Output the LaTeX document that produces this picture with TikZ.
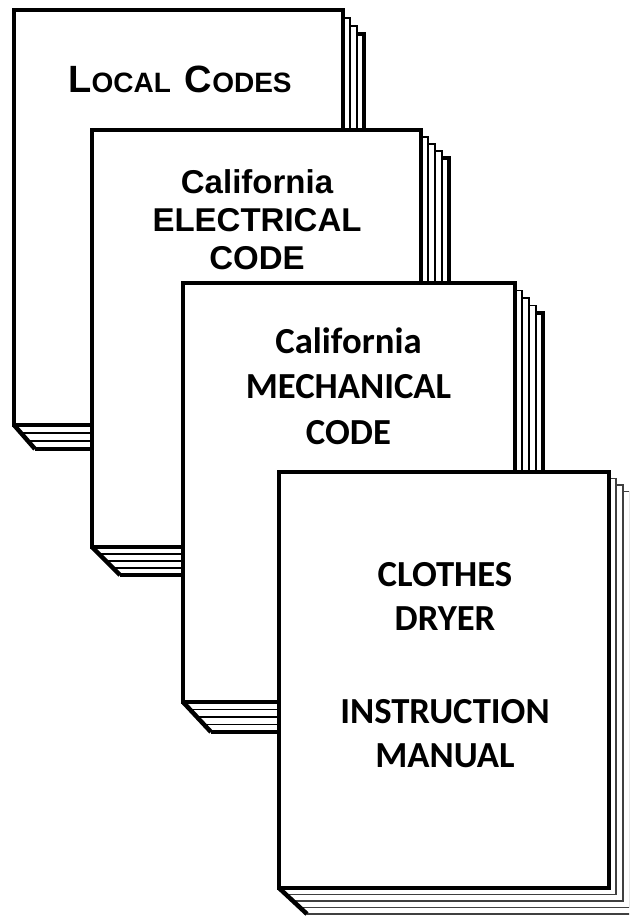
\documentclass[tikz,border=0pt]{standalone}
\usepackage{fontspec}
\newfontfamily\helvb{Liberation Sans}
\newfontfamily\calib{Carlito}
\tikzset{
  frontpage/.style={draw=black,line width=4.5pt,fill=white},
  thinpage/.style={draw=black,line width=1.6pt},
  lastpage/.style={draw=black,line width=4pt},
  greypage/.style={draw=black!75,line width=1.8pt},
  helvtext/.style={anchor=base,inner sep=0pt,font=\helvb\bfseries\fontsize{33}{33}\selectfont},
  calitext/.style={anchor=base,inner sep=0pt,font=\calib\bfseries\fontsize{36.7}{36.7}\selectfont}
}
% #1 x1, #2 y1, #3 x2, #4 y2, #5 dx, #6 dy, #7 number of back pages, #8 thin style, #9 last style
\newcommand{\bookstack}[9]{%
  \fill[white] (#1,#2) -- (#3,#2) -- ({#3+#7*#5},{#2+#7*#6}) -- ({#3+#7*#5},{#4+#7*#6})
     -- ({#1+#7*#5},{#4+#7*#6}) -- (#1,#4) -- cycle;
  \foreach \k in {#7,...,1} {
    \ifnum\k=#7\relax\def\pgst{#9}\else\def\pgst{#8}\fi
    \fill[white] ({#1+\k*#5},{#2+\k*#6}) rectangle ({#3+\k*#5},{#4+\k*#6});
    \draw[\pgst] ({#3+(\k-1)*#5},{#2+\k*#6}) -- ({#3+\k*#5},{#2+\k*#6})
       -- ({#3+\k*#5},{#4+\k*#6}) -- ({#1+\k*#5},{#4+\k*#6});
  }
  \draw[frontpage] (#1,#2) rectangle (#3,#4);
  \draw[frontpage] (#1,#4) -- ({#1+#7*#5},{#4+#7*#6});
}
\begin{document}
\begin{tikzpicture}[x=1pt,y=-1pt]
\useasboundingbox (0,0) rectangle (629,918);
\fill[white] (0,0) rectangle (629,918);
\clip (0,0) rectangle (629,918);

% Book 1: Local Codes
\bookstack{14}{10}{343}{425}{7}{8}{3}{thinpage}{lastpage}
\node[anchor=base,inner sep=0pt,font=\helvb\bfseries] (local) at (180,92)
  {\fontsize{38}{38}\selectfont L\fontsize{28}{28}\selectfont OCAL\hspace{14pt}\fontsize{38}{38}\selectfont C\fontsize{28}{28}\selectfont ODES};

% Book 2: California Electrical Code
\bookstack{92}{130}{421}{547}{7}{7}{4}{thinpage}{lastpage}
\node[helvtext] (ec1) at (257,193) {California};
\node[helvtext] (ec2) at (257,231) {ELECTRICAL};
\node[helvtext] (ec3) at (257,269) {CODE};

% Book 3: California Mechanical Code
\bookstack{183}{283}{515}{702}{7}{7.5}{4}{thinpage}{lastpage}
\node[calitext] (mc1) at (348.5,353) {California};
\node[calitext] (mc2) at (348.5,398.5) {MECHANICAL};
\node[calitext] (mc3) at (348.5,444) {CODE};

% Book 4: Clothes Dryer Instruction Manual
\bookstack{279}{472}{609}{888}{7}{6.5}{4}{greypage}{greypage}
\node[calitext] (cd1) at (445,586.5) {CLOTHES};
\node[calitext] (cd2) at (445,630) {DRYER};
\node[calitext] (cd3) at (445,723) {INSTRUCTION};
\node[calitext] (cd4) at (445,767) {MANUAL};
\end{tikzpicture}
\end{document}
